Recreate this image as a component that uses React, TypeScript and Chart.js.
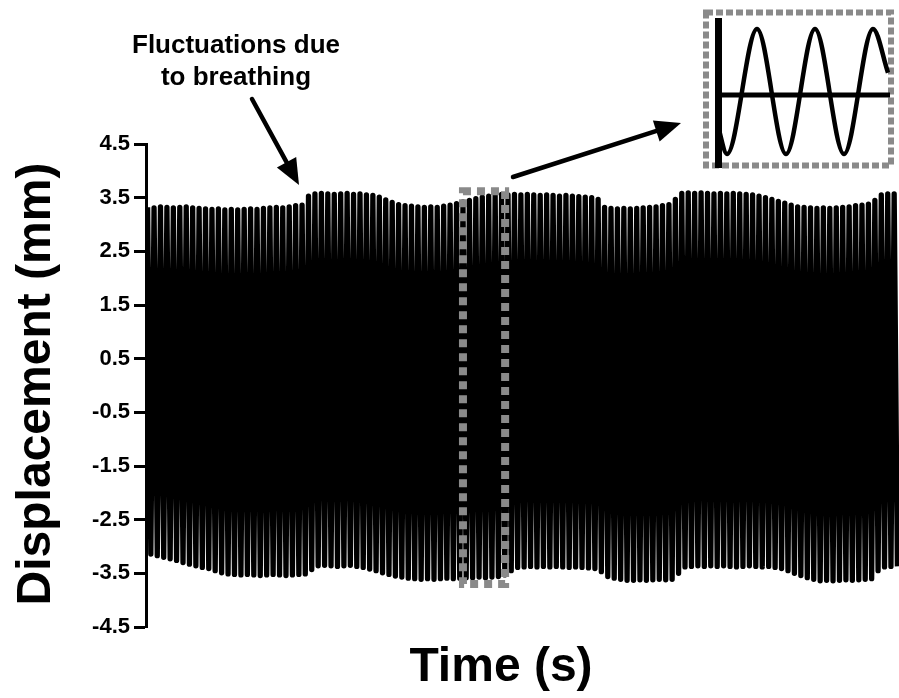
import { useEffect, useRef } from 'react';
import { Chart, registerables } from 'chart.js';

Chart.register(...registerables);

// ---- DATA ----
// One value per oscillation cycle: the crest and the trough of each cycle (mm)
const peakValues = [
  3.32, 3.31, 3.33, 3.32, 3.31, 3.32, 3.33, 3.31,
  3.30, 3.29, 3.28, 3.29, 3.27, 3.28, 3.27, 3.28, 3.29, 3.28, 3.30,
  3.31, 3.32, 3.31, 3.33, 3.35, 3.36,
  3.53,
  3.57, 3.58, 3.57, 3.56, 3.57, 3.58, 3.56, 3.57, 3.55, 3.54,
  3.51, 3.46, 3.41, 3.37, 3.35,
  3.34, 3.33, 3.32, 3.33, 3.32, 3.34, 3.36,
  3.39, 3.42, 3.45, 3.48, 3.51, 3.53,
  3.55, 3.56, 3.55, 3.56, 3.55, 3.56, 3.55, 3.54, 3.55, 3.54, 3.53, 3.54, 3.53, 3.52, 3.51, 3.50, 3.47,
  3.32, 3.30, 3.29, 3.30, 3.29, 3.30, 3.31, 3.32, 3.33, 3.35, 3.37,
  3.47,
  3.58, 3.59, 3.58, 3.59, 3.58, 3.57, 3.58, 3.57, 3.58, 3.57, 3.56,
  3.55, 3.53, 3.50, 3.47, 3.43, 3.40, 3.36, 3.33,
  3.32, 3.31, 3.30, 3.31, 3.30, 3.31, 3.32, 3.33, 3.35, 3.36,
  3.38, 3.45, 3.55, 3.57, 3.57,
];

const troughValues = [
  -3.14, -3.17, -3.20, -3.23, -3.26, -3.30, -3.33, -3.36, -3.39, -3.41, -3.45, -3.49, -3.51,
  -3.52, -3.53, -3.52, -3.53, -3.54, -3.53, -3.52, -3.53, -3.54, -3.53, -3.52, -3.51,
  -3.43,
  -3.36, -3.35, -3.36, -3.37, -3.36, -3.35, -3.37,
  -3.39, -3.42, -3.45, -3.49, -3.52, -3.55, -3.57, -3.59, -3.60,
  -3.61, -3.60, -3.61, -3.60, -3.59, -3.60, -3.59, -3.58,
  -3.58, -3.57, -3.58, -3.57, -3.56, -3.53,
  -3.45,
  -3.39, -3.38, -3.37, -3.38, -3.37, -3.38, -3.37, -3.38, -3.39, -3.38, -3.39, -3.40, -3.41,
  -3.47, -3.56,
  -3.59, -3.61, -3.63, -3.63, -3.62, -3.63, -3.62, -3.61, -3.62, -3.61,
  -3.50,
  -3.38, -3.37, -3.36, -3.37, -3.36, -3.37, -3.36, -3.37, -3.38, -3.37, -3.36, -3.37, -3.38, -3.37, -3.39,
  -3.41, -3.45, -3.50, -3.54, -3.58, -3.61,
  -3.64, -3.63, -3.64, -3.63, -3.62, -3.63, -3.62, -3.61, -3.60,
  -3.45, -3.38, -3.37, -3.37,
];

const cycleCount = 117;

const yTickValues = [-4.5, -3.5, -2.5, -1.5, -0.5, 0.5, 1.5, 2.5, 3.5, 4.5];

// Highlighted window (cycles on x, mm on y)
const windowXRange = [49.25, 55.8];
const windowYRange = [-3.7, 3.62];

// Inset (zoomed view): positions along its time axis and normalised values
const insetTimes = [0, 9, 39, 68, 97, 126, 155, 170];
const insetValues = [-0.56, -1, 1, -1, 1, -1, 1, 0.3];
const insetSpan = 172;
const insetBaseline = -0.056;

const annotationLines = ['Fluctuations due', 'to breathing'];
const yTitle = 'Displacement (mm)';
const xTitle = 'Time (s)';

const FONT = '"Liberation Sans", Arial, Helvetica, sans-serif';

function drawArrow(ctx: CanvasRenderingContext2D, x0: number, y0: number, x1: number, y1: number, headLen: number, headHalf: number, shaft: number) {
  const dx = x1 - x0;
  const dy = y1 - y0;
  const len = Math.hypot(dx, dy);
  const ux = dx / len;
  const uy = dy / len;
  const bx = x1 - ux * headLen;
  const by = y1 - uy * headLen;
  ctx.save();
  ctx.strokeStyle = '#000';
  ctx.fillStyle = '#000';
  ctx.lineWidth = shaft;
  ctx.lineCap = 'round';
  ctx.beginPath();
  ctx.moveTo(x0, y0);
  ctx.lineTo(bx + ux * 2, by + uy * 2);
  ctx.stroke();
  ctx.beginPath();
  ctx.moveTo(x1, y1);
  ctx.lineTo(bx - uy * headHalf, by + ux * headHalf);
  ctx.lineTo(bx + uy * headHalf, by - ux * headHalf);
  ctx.closePath();
  ctx.fill();
  ctx.restore();
}

export default function App() {
  const mainRef = useRef<HTMLCanvasElement | null>(null);
  const insetRef = useRef<HTMLCanvasElement | null>(null);

  useEffect(() => {
    if (!mainRef.current || !insetRef.current) return;

    const n = Math.min(peakValues.length, troughValues.length);
    const signal: { x: number; y: number }[] = [];
    for (let i = 0; i < n; i++) {
      signal.push({ x: i + 0.25, y: peakValues[i] });
      signal.push({ x: i + 0.75, y: troughValues[i] });
    }

    const decorations = {
      id: 'decorations',
      afterDatasetsDraw(chart: any) {
        const { ctx, scales } = chart;
        const xs = scales.x;
        const ys = scales.y;
        const l = xs.getPixelForValue(windowXRange[0]);
        const r = xs.getPixelForValue(windowXRange[1]);
        const t = ys.getPixelForValue(windowYRange[1]);
        const b = ys.getPixelForValue(windowYRange[0]);
        ctx.save();
        ctx.strokeStyle = '#8a8a8a';
        ctx.lineWidth = 8;
        ctx.setLineDash([8, 6]);
        ctx.strokeRect(l, t, r - l, b - t);
        ctx.restore();
      },
      afterDraw(chart: any) {
        const { ctx } = chart;
        ctx.save();
        ctx.fillStyle = '#000';
        ctx.textAlign = 'center';
        ctx.textBaseline = 'alphabetic';
        ctx.font = `bold 26px ${FONT}`;
        ctx.fillText(annotationLines[0], 236, 53);
        ctx.fillText(annotationLines[1], 236, 85);

        ctx.font = `bold 48px ${FONT}`;
        ctx.fillText(xTitle, 501, 681);

        ctx.save();
        ctx.translate(50, 384);
        ctx.rotate(-Math.PI / 2);
        ctx.fillText(yTitle, 0, 0);
        ctx.restore();
        ctx.restore();

        drawArrow(ctx, 252, 99, 299, 185, 26, 11, 4.5);
        drawArrow(ctx, 513, 177, 681, 123, 26, 11, 4.5);
      },
    };

    const main = new Chart(mainRef.current, {
      type: 'line',
      data: {
        datasets: [
          {
            data: signal,
            borderColor: '#000',
            borderWidth: 5.3,
            pointRadius: 0,
            tension: 0,
            borderJoinStyle: 'round',
            fill: false,
          } as any,
        ],
      },
      options: {
        animation: false,
        responsive: false,
        maintainAspectRatio: false,
        events: [],
        layout: { padding: { left: 0, right: 0, top: 144, bottom: 71 } },
        plugins: { legend: { display: false }, tooltip: { enabled: false } },
        scales: {
          x: { type: 'linear', min: 0, max: cycleCount, display: false },
          y: {
            type: 'linear',
            min: -4.5,
            max: 4.5,
            afterFit: (s: any) => {
              s.width = 146;
            },
            afterBuildTicks: (s: any) => {
              s.ticks = yTickValues.map((v) => ({ value: v }));
            },
            grid: {
              display: true,
              drawOnChartArea: false,
              drawTicks: true,
              tickLength: 12,
              tickWidth: 3,
              tickColor: '#000',
            },
            border: { display: true, width: 3, color: '#000' },
            ticks: {
              color: '#000',
              padding: 4,
              font: { family: FONT, size: 22, weight: 'bold' },
              callback: (v: any) => Number(v).toFixed(1),
            },
          },
        },
      } as any,
      plugins: [decorations],
    });

    const insetWave = insetTimes.map((t, i) => ({ x: t, y: insetValues[i] }));
    const insetFrame = {
      id: 'insetFrame',
      beforeDraw(chart: any) {
        const { ctx } = chart;
        ctx.save();
        ctx.strokeStyle = '#8a8a8a';
        ctx.lineWidth = 6;
        ctx.setLineDash([7, 3]);
        ctx.strokeRect(6, 12.5, 185, 153);
        ctx.restore();
      },
    };

    const inset = new Chart(insetRef.current, {
      type: 'line',
      data: {
        datasets: [
          {
            data: insetWave,
            borderColor: '#000',
            borderWidth: 4.5,
            pointRadius: 0,
            cubicInterpolationMode: 'monotone',
            fill: false,
          } as any,
          {
            data: [
              { x: 0, y: insetBaseline },
              { x: insetSpan, y: insetBaseline },
            ],
            borderColor: '#000',
            borderWidth: 5,
            pointRadius: 0,
            fill: false,
          } as any,
        ],
      },
      options: {
        animation: false,
        responsive: false,
        maintainAspectRatio: false,
        events: [],
        layout: { padding: { left: 0, right: 9, top: 21, bottom: 13 } },
        plugins: { legend: { display: false }, tooltip: { enabled: false } },
        scales: {
          x: { type: 'linear', min: 0, max: insetSpan, display: false },
          y: {
            type: 'linear',
            min: -1.208,
            max: 1.128,
            afterFit: (s: any) => {
              s.width = 18;
            },
            ticks: { display: false },
            grid: { display: false, drawTicks: false },
            border: { display: true, width: 7, color: '#000' },
          },
        },
      } as any,
      plugins: [insetFrame],
    });

    return () => {
      main.destroy();
      inset.destroy();
    };
  }, []);

  return (
    <div style={{ position: 'absolute', left: 0, top: 0, width: 899, height: 698, background: '#fff' }}>
      <canvas ref={mainRef} width={899} height={698} style={{ position: 'absolute', left: 0, top: 0 }} />
      <canvas ref={insetRef} width={199} height={180} style={{ position: 'absolute', left: 700, top: 0 }} />
    </div>
  );
}
